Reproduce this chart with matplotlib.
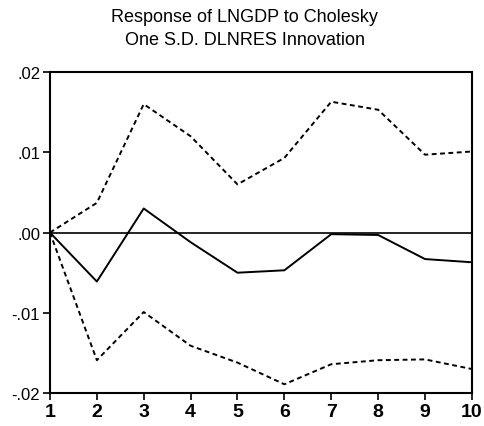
import matplotlib
matplotlib.use("Agg")
import matplotlib.pyplot as plt

plt.rcParams['font.family'] = ['Liberation Sans', 'DejaVu Sans']

# impulse response of LNGDP to a DLNRES shock, with +/- 2 S.E. bands
periods = [1, 2, 3, 4, 5, 6, 7, 8, 9, 10]
response = [0.0, -0.0061, 0.0030, -0.0012, -0.0050, -0.0047, -0.0002, -0.0003, -0.0033, -0.0037]
upper = [0.0, 0.0037, 0.0160, 0.0120, 0.0060, 0.0093, 0.0163, 0.0153, 0.0097, 0.0101]
lower = [0.0, -0.0159, -0.0099, -0.0141, -0.0162, -0.0189, -0.0164, -0.0159, -0.0158, -0.0170]

ytick_vals = [-0.02, -0.01, 0.0, 0.01, 0.02]
ytick_labels = ["-.02", "-.01", ".00", ".01", ".02"]

fig = plt.figure(figsize=(4.85, 4.27), dpi=100)
ax = fig.add_axes([0.103, 0.077, 0.870, 0.752])

ax.axhline(0, color="black", lw=1.2)
ax.plot(periods, response, color="black", lw=1.4)
ax.plot(periods, upper, color="black", lw=1.4, linestyle=(0, (2.5, 1.8)))
ax.plot(periods, lower, color="black", lw=1.4, linestyle=(0, (2.5, 1.8)))

ax.set_xlim(1, 10)
ax.set_ylim(-0.02, 0.02)
ax.set_xticks(periods)
ax.set_xticklabels([str(p) for p in periods], fontsize=14, fontweight="bold")
ax.set_yticks(ytick_vals)
ax.set_yticklabels(ytick_labels, fontsize=12)
ax.tick_params(direction="out", length=5, width=1.2, pad=2)

for s in ax.spines.values():
    s.set_linewidth(1.5)

fig.text(0.505, 0.932, "Response of LNGDP to Cholesky\nOne S.D. DLNRES Innovation",
         ha="center", va="center", fontsize=13, linespacing=1.45)

fig.savefig("out.png", dpi=100)
